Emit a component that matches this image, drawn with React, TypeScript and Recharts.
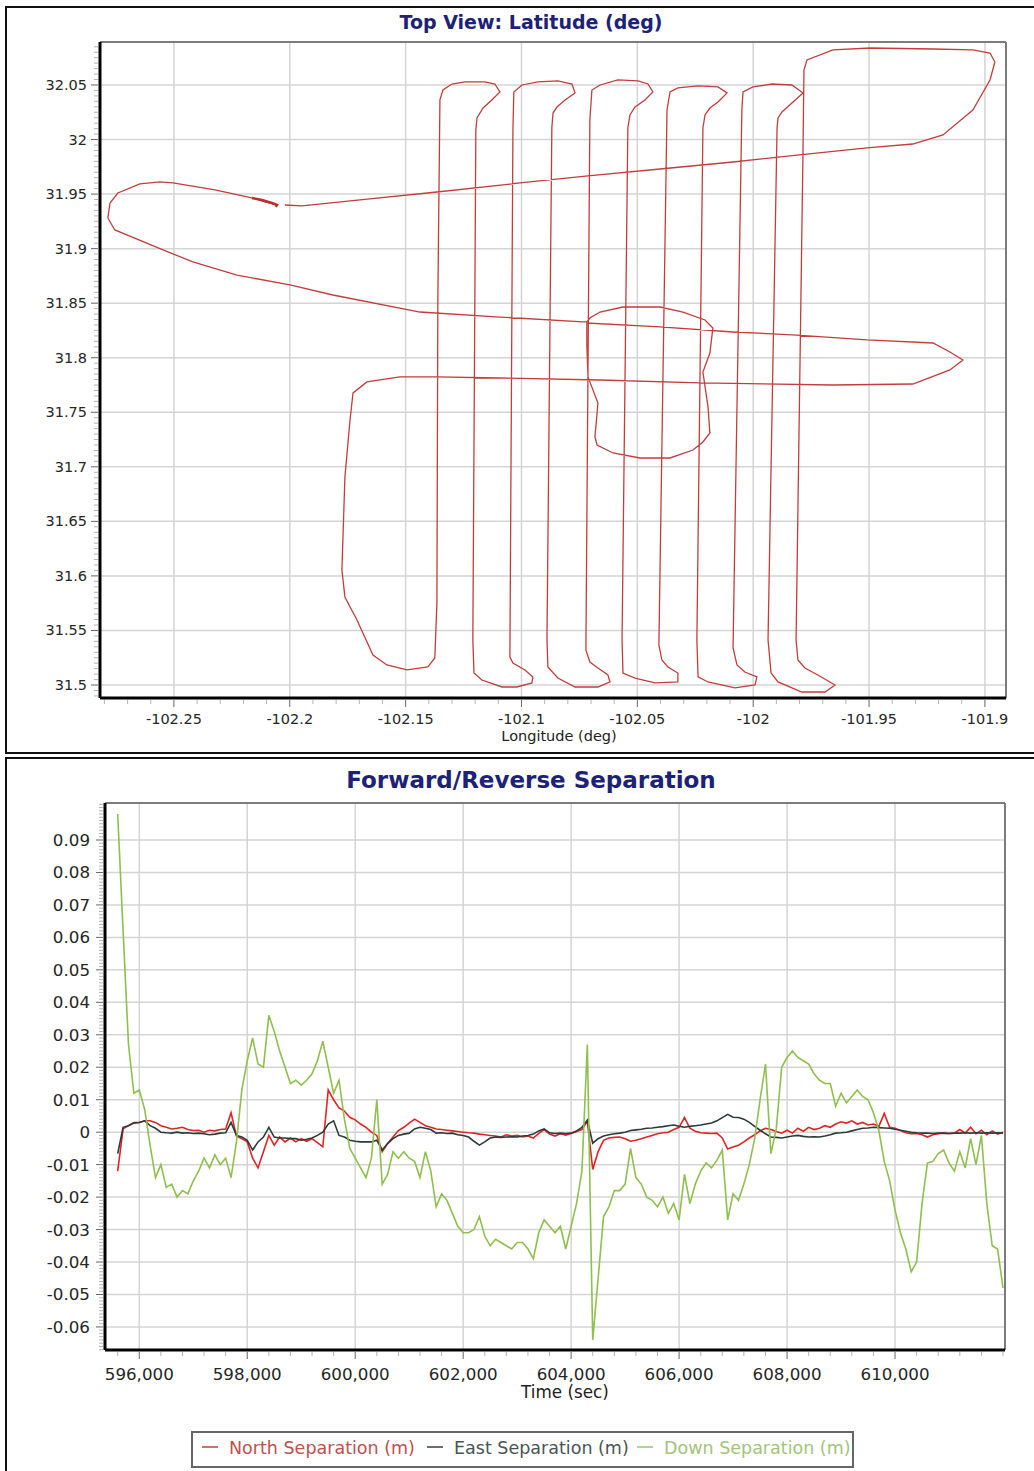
import React from "react";
import {
  LineChart,
  Line,
  XAxis,
  YAxis,
  CartesianGrid,
  ReferenceLine,
} from "recharts";

const FONT = '"DejaVu Sans", Verdana, sans-serif';

// ---- Top view: flight path (lon / lat, deg) ----
const PATH_LON = [
  -102.2055, -102.2107, -102.2159, -102.2323, -102.2504, -102.256, -102.2647, -102.2742, -102.2776, -102.2785,
  -102.2755, -102.2547, -102.2418, -102.2228, -102.1999, -102.1814, -102.1438, -102.1093, -102.0735, -102.0718,
  -102.0705, -102.0661, -102.0562, -102.0402, -102.0303, -102.0208, -102.0174, -102.0187, -102.0217, -102.0195,
  -102.0187, -102.0217, -102.026, -102.0359, -102.0489, -102.0605, -102.0674, -102.0683, -102.067, -102.0713,
  -102.0718, -102.0718, -102.0402, -102.0087, -101.9811, -101.9509, -101.9224, -101.9151, -101.9095, -101.9151,
  -101.9311, -101.9656, -102.023, -102.0661, -102.1093, -102.1365, -102.1525, -102.1667, -102.1727, -102.174,
  -102.1762, -102.1775, -102.1762, -102.171, -102.1641, -102.1581, -102.1494, -102.1404, -102.1374, -102.1365,
  -102.1361, -102.1352, -102.1339, -102.13, -102.1244, -102.1158, -102.1115, -102.1093, -102.1128, -102.1166,
  -102.1192, -102.1197, -102.121, -102.1205, -102.1171, -102.1084, -102.102, -102.0955, -102.0951, -102.0985,
  -102.1037, -102.105, -102.1037, -102.1033, -102.0998, -102.0929, -102.0843, -102.0782, -102.0769, -102.0812,
  -102.0847, -102.0864, -102.0869, -102.089, -102.0886, -102.0843, -102.0769, -102.067, -102.0618, -102.0627,
  -102.067, -102.0705, -102.0722, -102.0705, -102.0696, -102.0661, -102.0584, -102.0497, -102.0454, -102.0433,
  -102.0467, -102.051, -102.0532, -102.0541, -102.0566, -102.0562, -102.051, -102.0424, -102.0325, -102.0325,
  -102.0368, -102.0394, -102.0407, -102.0372, -102.0359, -102.0325, -102.0238, -102.0152, -102.0113, -102.0152,
  -102.0187, -102.0208, -102.0217, -102.0243, -102.0238, -102.0195, -102.0079, -101.9992, -101.9984, -102.0036,
  -102.007, -102.0087, -102.0049, -102.0044, -102.0001, -101.9919, -101.9833, -101.9785, -101.9833, -101.9876,
  -101.9893, -101.9897, -101.9936, -101.9923, -101.9893, -101.979, -101.969, -101.9647, -101.9721, -101.9777,
  -101.9807, -101.9815, -101.9785, -101.9781, -101.9768, -101.9656, -101.9496, -101.9224, -101.9052, -101.8978,
  -101.8957, -101.8978, -101.9052, -101.9181, -101.9311, -101.9509, -101.9811, -102.0087, -102.0402, -102.0713,
  -102.1007, -102.1365, -102.1697, -102.1948, -102.2021,
];
const PATH_LAT = [
  31.94, 31.9428, 31.9464, 31.9538, 31.9602, 31.9611, 31.9593, 31.951, 31.9418, 31.9281,
  31.9171, 31.8988, 31.8878, 31.8758, 31.8667, 31.8575, 31.8419, 31.8373, 31.8328, 31.8328,
  31.8364, 31.8419, 31.8465, 31.8465, 31.8419, 31.8346, 31.8273, 31.8043, 31.7869, 31.7549,
  31.731, 31.7228, 31.7154, 31.7081, 31.7081, 31.7127, 31.72, 31.7274, 31.7585, 31.7824,
  31.8117, 31.8318, 31.8282, 31.8236, 31.8208, 31.8163, 31.8135, 31.8053, 31.7979, 31.7888,
  31.7759, 31.775, 31.7769, 31.7796, 31.7814, 31.7824, 31.7824, 31.7778, 31.7677, 31.7429,
  31.6907, 31.6055, 31.5807, 31.5596, 31.5275, 31.5184, 31.5138, 31.5165, 31.5248, 31.5752,
  31.8529, 32.0363, 32.0454, 32.0509, 32.0528, 32.0528, 32.0509, 32.0436, 32.0363, 32.0289,
  32.0198, 32.0088, 31.5413, 31.511, 31.5046, 31.4982, 31.4982, 31.5019, 31.5074, 31.5138,
  31.5202, 31.5257, 32.0088, 32.0436, 32.05, 32.0528, 32.0537, 32.0509, 32.0427, 32.0363,
  32.0298, 32.0243, 32.0106, 31.5413, 31.5165, 31.5064, 31.4982, 31.4982, 31.5028, 31.5092,
  31.5156, 31.5211, 31.5321, 32.0179, 32.0454, 32.05, 32.0546, 32.0537, 32.0509, 32.0436,
  32.0363, 32.0298, 32.0225, 32.0106, 31.5413, 31.511, 31.5064, 31.5019, 31.5028, 31.511,
  31.5165, 31.5229, 31.5367, 32.0271, 32.0436, 32.0473, 32.0491, 32.0482, 32.0427, 32.0344,
  32.0289, 32.0225, 32.0106, 31.5413, 31.5074, 31.5028, 31.4973, 31.5, 31.5074, 31.5119,
  31.5184, 31.534, 32.0271, 32.0436, 32.0482, 32.0509, 32.05, 32.0427, 32.0335, 32.0253,
  32.0198, 32.0106, 31.5413, 31.511, 31.5028, 31.4936, 31.4936, 31.5, 31.5092, 31.5156,
  31.5229, 31.5413, 31.9904, 32.0637, 32.0729, 32.0821, 32.0839, 32.083, 32.0821, 32.0793,
  32.0711, 32.0546, 32.0271, 32.0042, 31.9959, 31.9923, 31.9858, 31.9794, 31.973, 31.9666,
  31.9602, 31.9519, 31.9446, 31.9391, 31.94,
];
// short thicker trace at the start point
const START_LON = [-102.2163, -102.212, -102.2077, -102.2055, -102.206];
const START_LAT = [31.9464, 31.9446, 31.9418, 31.94, 31.9382];

const LON_TICKS = [-102.25, -102.2, -102.15, -102.1, -102.05, -102, -101.95, -101.9];
const LAT_TICKS = [31.5, 31.55, 31.6, 31.65, 31.7, 31.75, 31.8, 31.85, 31.9, 31.95, 32, 32.05];
const LON_DOMAIN: [number, number] = [-102.2819, -101.8909];
const LAT_DOMAIN: [number, number] = [31.4881, 32.0894];

// ---- Forward / reverse separation (m) vs time (sec) ----
const TIME = [
  595600, 595700, 595800, 595900, 596000, 596100, 596200, 596300, 596400, 596500,
  596600, 596700, 596800, 596900, 597000, 597100, 597200, 597300, 597400, 597500,
  597600, 597700, 597800, 597900, 598000, 598100, 598200, 598300, 598400, 598500,
  598600, 598700, 598800, 598900, 599000, 599100, 599200, 599300, 599400, 599500,
  599600, 599700, 599800, 599900, 600000, 600100, 600200, 600300, 600400, 600500,
  600600, 600700, 600800, 600900, 601000, 601100, 601200, 601300, 601400, 601500,
  601600, 601700, 601800, 601900, 602000, 602100, 602200, 602300, 602400, 602500,
  602600, 602700, 602800, 602900, 603000, 603100, 603200, 603300, 603400, 603500,
  603600, 603700, 603800, 603900, 604000, 604100, 604200, 604300, 604400, 604500,
  604600, 604700, 604800, 604900, 605000, 605100, 605200, 605300, 605400, 605500,
  605600, 605700, 605800, 605900, 606000, 606100, 606200, 606300, 606400, 606500,
  606600, 606700, 606800, 606900, 607000, 607100, 607200, 607300, 607400, 607500,
  607600, 607700, 607800, 607900, 608000, 608100, 608200, 608300, 608400, 608500,
  608600, 608700, 608800, 608900, 609000, 609100, 609200, 609300, 609400, 609500,
  609600, 609700, 609800, 609900, 610000, 610100, 610200, 610300, 610400, 610500,
  610600, 610700, 610800, 610900, 611000, 611100, 611200, 611300, 611400, 611500,
  611600, 611700, 611800, 611900, 612000,
];
const NORTH = [
  -0.012, 0.001, 0.002, 0.003, 0.003, 0.0035, 0.0035, 0.003, 0.002, 0.0015,
  0.001, 0.0012, 0.0015, 0.0008, 0.0005, 0.0006, 0.0, 0.0006, 0.0004, 0.0008,
  0.001, 0.006, -0.0012, -0.002, -0.003, -0.008, -0.011, -0.006, -0.001, -0.004,
  -0.0015, -0.003, -0.0018, -0.003, -0.002, -0.0028, -0.002, -0.0032, -0.0045, 0.013,
  0.01, 0.0075, 0.0065, 0.0046, 0.0038, 0.0025, 0.0015, 0.0, -0.001, -0.006,
  -0.0035, -0.0015, 0.0005, 0.0015, 0.0028, 0.004, 0.003, 0.002, 0.0015, 0.001,
  0.0008, 0.0006, 0.0004, 0.0002, 0.0, -0.0002, -0.0003, -0.0006, -0.0008, -0.001,
  -0.0012, -0.0015, -0.0008, -0.0012, -0.001, -0.0015, -0.0012, -0.0018, -0.0004, 0.0008,
  -0.0006, -0.0012, -0.0005, -0.0009, -0.0004, 0.0002, 0.0008, 0.0035, -0.0115, -0.006,
  -0.0025, -0.0018, -0.0016, -0.0015, -0.002, -0.0028, -0.0025, -0.002, -0.0015, -0.001,
  -0.0005, -0.0002, 0.0, 0.0008, 0.0015, 0.0045, 0.0012, 0.0003, -0.0002, -0.0003,
  -0.0004, -0.0003, -0.0018, -0.0052, -0.0046, -0.004, -0.003, -0.0018, -0.0008, 0.0004,
  0.0012, 0.0008, 0.0002, -0.0003, 0.0006, -0.0003, 0.0012, 0.0003, 0.0015, 0.0008,
  0.0012, 0.002, 0.0015, 0.0025, 0.0032, 0.0028, 0.0035, 0.0025, 0.003, 0.0022,
  0.0025, 0.0018, 0.0058, 0.0015, 0.0012, 0.0005, -0.0002, -0.0005, -0.0004, -0.0008,
  -0.0015, -0.0008, -0.0005, -0.0003, -0.0004, -0.0003, 0.0008, -0.0003, 0.0015, -0.0005,
  0.0006, -0.0008, 0.0004, -0.0006, 0.0,
];
const EAST = [
  -0.0066, 0.0015, 0.002, 0.0028, 0.003, 0.0035, 0.002, 0.0012, 0.0, -0.0002,
  -0.0003, 0.0, -0.0003, -0.0002, -0.0004, -0.0003, -0.0005, -0.0008, -0.0006, -0.0003,
  -0.0002, 0.003, -0.001, -0.0015, -0.0025, -0.0055, -0.003, -0.0015, 0.0015, -0.0015,
  -0.0018, -0.0018, -0.002, -0.002, -0.0025, -0.0022, -0.0018, -0.001, 0.0, 0.0025,
  0.0035, -0.001, -0.0015, -0.0025, -0.0028, -0.003, -0.003, -0.003, -0.0025, -0.0055,
  -0.0035, -0.002, -0.001, -0.0006, -0.0003, 0.001, 0.0015, 0.0012, 0.0008, -0.0003,
  -0.0002, -0.0004, -0.0003, -0.0008, -0.001, -0.0015, -0.0028, -0.004, -0.003, -0.0018,
  -0.0015, -0.0016, -0.0015, -0.0014, -0.0015, -0.0012, -0.001, -0.0006, 0.0004, 0.001,
  -0.0002, -0.0004, -0.0003, -0.0004, -0.0003, 0.0004, 0.0015, 0.0037, -0.0034, -0.002,
  -0.0012, -0.0008, -0.0005, -0.0003, 0.0, 0.0005, 0.0007, 0.0009, 0.0012, 0.0013,
  0.0015, 0.0017, 0.002, 0.0022, 0.0018, 0.0015, 0.0018, 0.002, 0.0022, 0.0025,
  0.0028, 0.0035, 0.0045, 0.0055, 0.0046, 0.0045, 0.004, 0.003, 0.0018, 0.0006,
  -0.0005, -0.0015, -0.0016, -0.0018, -0.0015, -0.0012, -0.001, -0.0013, -0.0015, -0.0014,
  -0.0015, -0.0012, -0.0008, -0.0003, -0.0002, 0.0, 0.0004, 0.0008, 0.0012, 0.0013,
  0.0015, 0.0014, 0.0013, 0.0012, 0.0009, 0.0006, 0.0003, 0.0, -0.0002, -0.0003,
  -0.0003, -0.0004, -0.0003, -0.0003, -0.0004, -0.0003, -0.0003, -0.0002, -0.0003, -0.0002,
  -0.0003, -0.0002, -0.0003, -0.0002, -0.0003,
];
const DOWN = [
  0.098, 0.062, 0.027, 0.012, 0.013, 0.007, -0.004, -0.014, -0.01, -0.017,
  -0.016, -0.02, -0.018, -0.019, -0.015, -0.012, -0.008, -0.011, -0.007, -0.01,
  -0.008, -0.014, -0.003, 0.013, 0.022, 0.029, 0.021, 0.02, 0.036, 0.031,
  0.025, 0.02, 0.015, 0.016, 0.0145, 0.016, 0.018, 0.022, 0.028, 0.02,
  0.012, 0.016, 0.004, -0.005, -0.008, -0.011, -0.014, -0.008, 0.01, -0.016,
  -0.013, -0.006, -0.008, -0.006, -0.008, -0.009, -0.014, -0.006, -0.012, -0.023,
  -0.019, -0.021, -0.025, -0.029, -0.031, -0.031, -0.03, -0.026, -0.032, -0.035,
  -0.033, -0.034, -0.035, -0.036, -0.034, -0.034, -0.036, -0.039, -0.031, -0.027,
  -0.029, -0.031, -0.029, -0.036, -0.029, -0.022, -0.012, 0.027, -0.064, -0.045,
  -0.026, -0.023, -0.018, -0.018, -0.016, -0.005, -0.014, -0.016, -0.02, -0.021,
  -0.023, -0.02, -0.025, -0.022, -0.027, -0.013, -0.022, -0.016, -0.012, -0.0095,
  -0.011, -0.0086, -0.0055, -0.027, -0.019, -0.021, -0.016, -0.01, -0.002, 0.01,
  0.021, -0.0066, 0.001, 0.02, 0.023, 0.025, 0.023, 0.022, 0.021, 0.018,
  0.016, 0.015, 0.015, 0.008, 0.012, 0.009, 0.011, 0.013, 0.011, 0.01,
  0.006, 0.0005, -0.009, -0.015, -0.024, -0.031, -0.036, -0.043, -0.04, -0.022,
  -0.0095, -0.009, -0.0066, -0.0055, -0.0095, -0.012, -0.006, -0.011, -0.002, -0.01,
  -0.001, -0.022, -0.035, -0.036, -0.048,
];

const TIME_TICKS = [596000, 598000, 600000, 602000, 604000, 606000, 608000, 610000];
const SEP_TICKS = [
  -0.06, -0.05, -0.04, -0.03, -0.02, -0.01, 0, 0.01, 0.02, 0.03, 0.04, 0.05, 0.06, 0.07, 0.08, 0.09,
];
const TIME_DOMAIN: [number, number] = [595365, 612037];
const SEP_DOMAIN: [number, number] = [-0.0671, 0.1014];

const SERIES = [
  { key: "north", name: "North Separation (m)", color: "#e02424", text: "#c0504d", mark: "#e06a6a" },
  { key: "east", name: "East Separation (m)", color: "#2c3a3a", text: "#4a5555", mark: "#66706f" },
  { key: "down", name: "Down Separation (m)", color: "#8fbf4d", text: "#a3c47a", mark: "#b5d38e" },
];
const LEGEND_X = [202, 427, 637];

const pathRows = PATH_LON.map((lon, i) => ({ lon, lat: PATH_LAT[i] }));
const startRows = START_LON.map((lon, i) => ({ lon, lat: START_LAT[i] }));
const sepRows = TIME.map((t, i) => ({
  t,
  north: NORTH[i],
  east: EAST[i],
  down: DOWN[i],
}));

// minor tick positions between the labelled ones
function steps(from: number, to: number, step: number) {
  const out: number[] = [];
  const n = Math.floor((to - from) / step + 1e-6);
  for (let i = 0; i <= n; i++) out.push(+(from + i * step).toFixed(6));
  return out;
}

const findMajor = (majors: number[], v: number) =>
  majors.find((m) => Math.abs(m - v) < 1e-7);

function leftTick(majors: number[], fontSize: number, gap: number, fmt: (v: number) => string) {
  return (props: any) => {
    const { x, y, payload } = props;
    const m = findMajor(majors, payload.value);
    if (m === undefined) {
      return <line x1={x - 6} y1={y} x2={x - 2} y2={y} stroke="#b4b4b4" strokeWidth={1} />;
    }
    return (
      <g>
        <line x1={x - 9} y1={y} x2={x - 2} y2={y} stroke="#666" strokeWidth={1} />
        <text
          x={x - gap}
          y={y}
          textAnchor="end"
          dominantBaseline="central"
          fontSize={fontSize}
          fontFamily={FONT}
          fill="#262626"
        >
          {fmt(m)}
        </text>
      </g>
    );
  };
}

function bottomTick(majors: number[], fontSize: number, base: number, fmt: (v: number) => string) {
  return (props: any) => {
    const { x, y, payload } = props;
    const m = findMajor(majors, payload.value);
    if (m === undefined) {
      return <line x1={x} y1={y + 2} x2={x} y2={y + 6} stroke="#b4b4b4" strokeWidth={1} />;
    }
    return (
      <g>
        <line x1={x} y1={y + 2} x2={x} y2={y + 9} stroke="#666" strokeWidth={1} />
        <text x={x} y={y + base} textAnchor="middle" fontSize={fontSize} fontFamily={FONT} fill="#262626">
          {fmt(m)}
        </text>
      </g>
    );
  };
}

const fmtPlain = (v: number) => String(v);
const fmtThousands = (v: number) => v.toLocaleString("en-US");

function TopView() {
  return (
    <LineChart
      width={1034}
      height={753}
      data={pathRows}
      margin={{ top: 42, right: 28, left: 0, bottom: 0 }}
    >
      <CartesianGrid
        stroke="#d4d4d4"
        strokeWidth={1.5}
        horizontalValues={LAT_TICKS}
        verticalValues={LON_TICKS}
      />
      <ReferenceLine y={LAT_DOMAIN[1]} stroke="#7c7c7c" strokeWidth={2} ifOverflow="visible" />
      <ReferenceLine x={LON_DOMAIN[1]} stroke="#7c7c7c" strokeWidth={2} ifOverflow="visible" />
      <XAxis
        type="number"
        dataKey="lon"
        domain={LON_DOMAIN}
        allowDataOverflow
        ticks={steps(-102.28, -101.9, 0.01)}
        interval={0}
        tickSize={0}
        tickMargin={0}
        tickLine={false}
        tick={bottomTick(LON_TICKS, 14.5, 26, fmtPlain)}
        axisLine={{ stroke: "#000", strokeWidth: 3 }}
        height={55}
        label={{
          value: "Longitude (deg)",
          position: "insideBottom",
          offset: 12,
          dx: 6,
          fontSize: 14.5,
          fill: "#222",
          fontFamily: FONT,
        }}
      />
      <YAxis
        type="number"
        domain={LAT_DOMAIN}
        allowDataOverflow
        ticks={steps(31.49, 32.085, 0.005)}
        interval={0}
        tickSize={0}
        tickMargin={0}
        tickLine={false}
        tick={leftTick(LAT_TICKS, 14.5, 13, fmtPlain)}
        axisLine={{ stroke: "#000", strokeWidth: 3 }}
        width={100}
      />
      <Line
        dataKey="lat"
        stroke="#c43c3c"
        strokeWidth={1.3}
        dot={false}
        isAnimationActive={false}
      />
      <Line
        data={startRows}
        dataKey="lat"
        stroke="#b8302c"
        strokeWidth={2.5}
        dot={false}
        isAnimationActive={false}
      />
    </LineChart>
  );
}

function Separation() {
  return (
    <LineChart
      width={1034}
      height={713}
      data={sepRows}
      margin={{ top: 45, right: 29, left: 0, bottom: 66 }}
    >
      <CartesianGrid
        stroke="#d4d4d4"
        strokeWidth={1.5}
        horizontalValues={SEP_TICKS}
        verticalValues={TIME_TICKS}
      />
      <ReferenceLine y={SEP_DOMAIN[1]} stroke="#7c7c7c" strokeWidth={2} ifOverflow="visible" />
      <ReferenceLine x={TIME_DOMAIN[1]} stroke="#7c7c7c" strokeWidth={2} ifOverflow="visible" />
      <XAxis
        type="number"
        dataKey="t"
        domain={TIME_DOMAIN}
        allowDataOverflow
        ticks={steps(595600, 612000, 400)}
        interval={0}
        tickSize={0}
        tickMargin={0}
        tickLine={false}
        tick={bottomTick(TIME_TICKS, 16.7, 29.5, fmtThousands)}
        axisLine={{ stroke: "#000", strokeWidth: 3 }}
        height={55}
        label={{
          value: "Time (sec)",
          position: "insideBottom",
          offset: 7,
          dx: 10,
          fontSize: 16.8,
          fill: "#222",
          fontFamily: FONT,
        }}
      />
      <YAxis
        type="number"
        domain={SEP_DOMAIN}
        allowDataOverflow
        ticks={steps(-0.067, 0.101, 0.001)}
        interval={0}
        tickSize={0}
        tickMargin={0}
        tickLine={false}
        tick={leftTick(SEP_TICKS, 16.7, 15, fmtPlain)}
        axisLine={{ stroke: "#000", strokeWidth: 3 }}
        width={105}
      />
      {SERIES.map((s) => (
        <Line
          key={s.key}
          dataKey={s.key}
          name={s.name}
          stroke={s.color}
          strokeWidth={1.6}
          dot={false}
          isAnimationActive={false}
        />
      ))}
    </LineChart>
  );
}

export default function App() {
  return (
    <div
      style={{
        position: "absolute",
        left: 0,
        top: 0,
        width: 1034,
        height: 1471,
        overflow: "hidden",
        background: "#fff",
        fontFamily: FONT,
      }}
    >
      <div
        style={{
          position: "absolute",
          left: 5,
          top: 6,
          width: 1100,
          height: 748,
          boxSizing: "border-box",
          border: "2px solid #111",
        }}
      />
      <div
        style={{
          position: "absolute",
          left: 5,
          top: 757,
          width: 1100,
          height: 800,
          boxSizing: "border-box",
          border: "2px solid #111",
        }}
      />
      <div style={{ position: "absolute", left: 0, top: 0 }}>
        <TopView />
      </div>
      <div style={{ position: "absolute", left: 0, top: 758 }}>
        <Separation />
      </div>
      <svg
        width={1034}
        height={1471}
        style={{ position: "absolute", left: 0, top: 0, pointerEvents: "none" }}
      >
        <text x={531} y={29} textAnchor="middle" fontSize={19} fontWeight="bold" fontFamily={FONT} fill="#1d2277">
          Top View: Latitude (deg)
        </text>
        <text x={531} y={788} textAnchor="middle" fontSize={23} fontWeight="bold" fontFamily={FONT} fill="#1d2277">
          Forward/Reverse Separation
        </text>
        <rect x={192} y={1432} width={661} height={35} fill="#fff" stroke="#666" strokeWidth={2} />
        {SERIES.map((s, i) => (
          <g key={s.key}>
            <line x1={LEGEND_X[i]} y1={1447} x2={LEGEND_X[i] + 16} y2={1447} stroke={s.mark} strokeWidth={2} />
            <text x={LEGEND_X[i] + 27} y={1454} fontSize={17.5} fontFamily={FONT} fill={s.text}>
              {s.name}
            </text>
          </g>
        ))}
      </svg>
    </div>
  );
}
